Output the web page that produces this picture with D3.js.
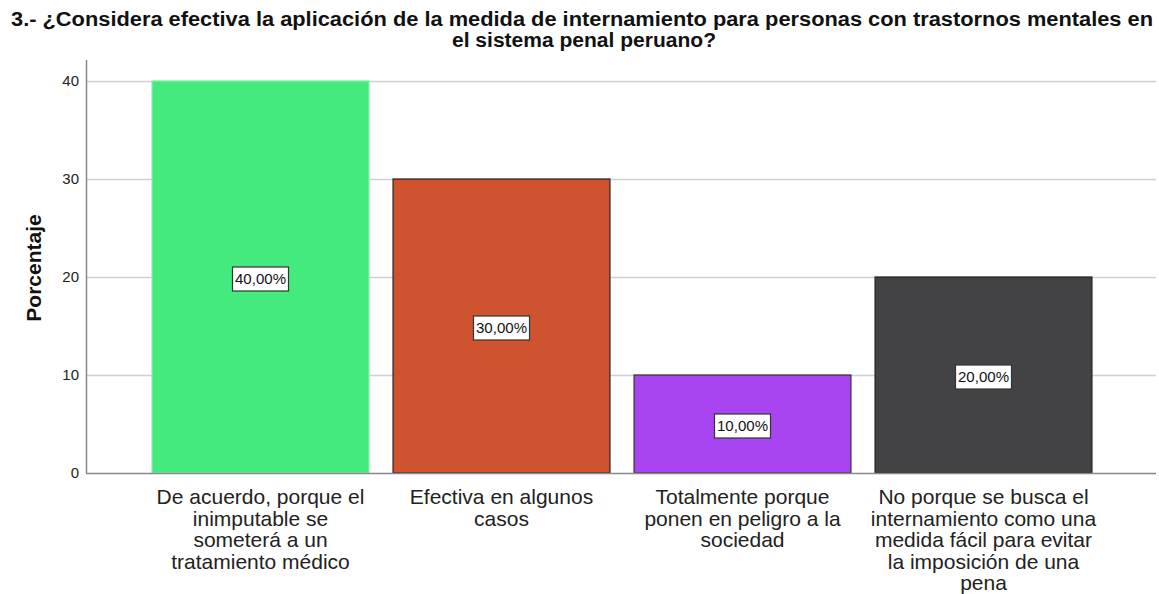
<!DOCTYPE html>
<html>
<head>
<meta charset="utf-8">
<script src="https://cdn.jsdelivr.net/npm/d3@7"></script>
<style>
  body { margin: 0; background: #fff; }
  svg { display: block; font-family: "Liberation Sans", Arial, sans-serif; }
</style>
</head>
<body>
<div id="chart"></div>
<script>
const categories = [
  ["De acuerdo, porque el", "inimputable se", "someterá a un", "tratamiento médico"],
  ["Efectiva en algunos", "casos"],
  ["Totalmente porque", "ponen en peligro a la", "sociedad"],
  ["No porque se busca el", "internamiento como una", "medida fácil para evitar", "la imposición de una", "pena"]
];
const values = [40, 30, 10, 20];
const valueLabels = ["40,00%", "30,00%", "10,00%", "20,00%"];
const yTicks = [0, 10, 20, 30, 40];
const colors = ["#44ea7e", "#d0532f", "#a845f0", "#434345"];
const strokes = ["#7ff0a4", "#222", "#333", "#222"];

const width = 1159,
  height = 594;

const svg = d3
  .select("#chart")
  .append("svg")
  .attr("width", width)
  .attr("height", height);

const x = d3
  .scaleBand()
  .domain(d3.range(values.length))
  .range([140, 1104])
  .paddingInner(0.1)
  .paddingOuter(0.05);

const y = d3.scaleLinear().domain([0, 40]).range([473, 81]);

// gridlines
svg
  .append("g")
  .selectAll("line")
  .data(yTicks.slice(1))
  .enter()
  .append("line")
  .attr("x1", 86)
  .attr("x2", 1156)
  .attr("y1", (d) => y(d) + 0.5)
  .attr("y2", (d) => y(d) + 0.5)
  .attr("stroke", "#d0d0d0")
  .attr("stroke-width", 1.5);

// bars
svg
  .append("g")
  .selectAll("rect")
  .data(values)
  .enter()
  .append("rect")
  .attr("x", (d, i) => x(i))
  .attr("y", (d) => y(d))
  .attr("width", x.bandwidth())
  .attr("height", (d) => y(0) - y(d))
  .attr("fill", (d, i) => colors[i])
  .attr("stroke", (d, i) => strokes[i])
  .attr("stroke-width", 1.2);

// axes
svg
  .append("line")
  .attr("x1", 86.5)
  .attr("x2", 86.5)
  .attr("y1", 60)
  .attr("y2", y(0))
  .attr("stroke", "#888")
  .attr("stroke-width", 1.5);

svg
  .append("line")
  .attr("x1", 86)
  .attr("x2", 1156)
  .attr("y1", y(0) + 0.5)
  .attr("y2", y(0) + 0.5)
  .attr("stroke", "#888")
  .attr("stroke-width", 1.5);

// y tick labels
svg
  .append("g")
  .selectAll("text")
  .data(yTicks)
  .enter()
  .append("text")
  .attr("x", 79)
  .attr("y", (d) => y(d))
  .attr("dy", "0.35em")
  .attr("text-anchor", "end")
  .style("font-size", "15px")
  .attr("fill", "#222")
  .text((d) => d);

// y axis title
svg
  .append("text")
  .attr("transform", "translate(41, 268) rotate(-90)")
  .attr("text-anchor", "middle")
  .style("font-size", "21px")
  .style("font-weight", "bold")
  .attr("fill", "#111")
  .text("Porcentaje");

// value labels
const lab = svg
  .append("g")
  .selectAll("g")
  .data(values)
  .enter()
  .append("g")
  .attr("transform", (d, i) => `translate(${x(i) + x.bandwidth() / 2}, ${(y(d) + y(0)) / 2 + 2})`);

lab
  .append("rect")
  .attr("x", -28)
  .attr("y", -12)
  .attr("width", 56)
  .attr("height", 24)
  .attr("fill", "#fff")
  .attr("stroke", "#333")
  .attr("stroke-width", 1.2);

lab
  .append("text")
  .attr("text-anchor", "middle")
  .attr("dy", "0.36em")
  .style("font-size", "15px")
  .attr("textLength", 51)
  .attr("lengthAdjust", "spacingAndGlyphs")
  .attr("fill", "#111")
  .text((d, i) => valueLabels[i]);

// category labels
const cat = svg
  .append("g")
  .selectAll("text")
  .data(categories)
  .enter()
  .append("text")
  .attr("text-anchor", "middle")
  .style("font-size", "21px")
  .attr("fill", "#222");

cat
  .selectAll("tspan")
  .data((d, i) => d.map((t) => ({ t: t, i: i })))
  .enter()
  .append("tspan")
  .attr("x", (d) => x(d.i) + x.bandwidth() / 2)
  .attr("y", (d, j) => 504 + j * 21.6)
  .text((d) => d.t);

// title
const title = svg
  .append("text")
  .attr("text-anchor", "middle")
  .style("font-size", "19.5px")
  .style("font-weight", "bold")
  .attr("fill", "#111");

title
  .append("tspan")
  .attr("x", 582)
  .attr("y", 26)
  .attr("textLength", 1142)
  .attr("lengthAdjust", "spacingAndGlyphs")
  .text("3.- ¿Considera efectiva la aplicación de la medida de internamiento para personas con trastornos mentales en");

title
  .append("tspan")
  .attr("x", 584)
  .attr("y", 47)
  .attr("textLength", 264)
  .attr("lengthAdjust", "spacingAndGlyphs")
  .text("el sistema penal peruano?");
</script>
</body>
</html>
